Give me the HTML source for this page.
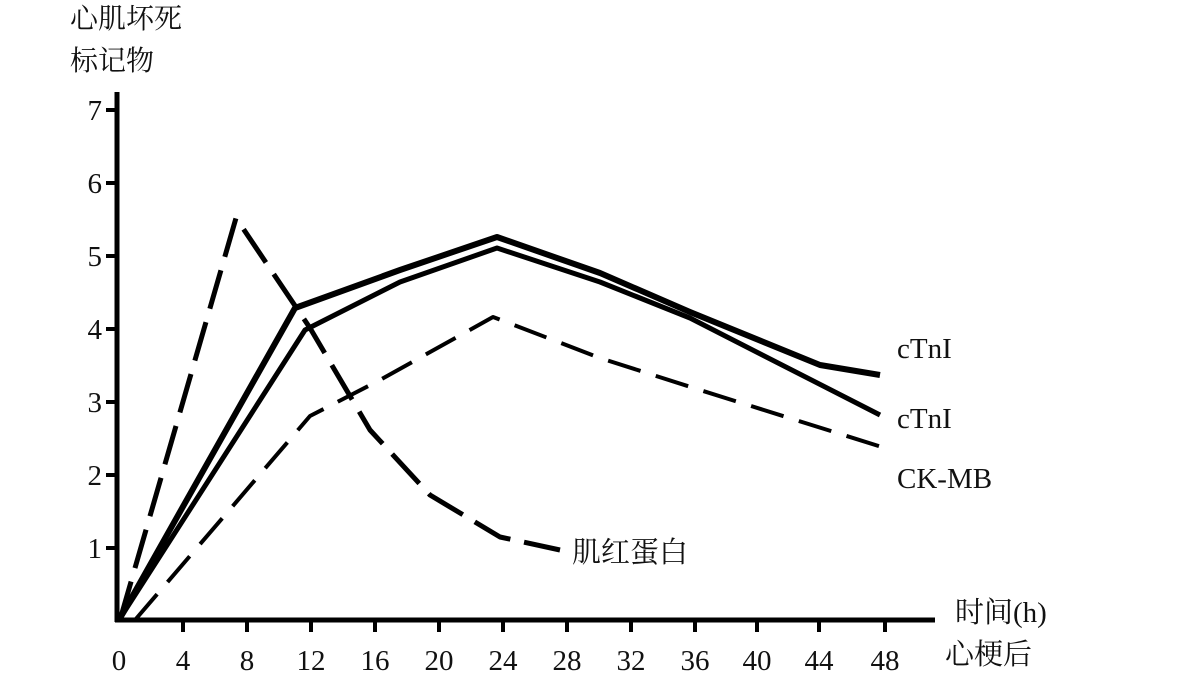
<!DOCTYPE html>
<html><head><meta charset="utf-8"><style>
html,body{margin:0;padding:0;background:#fff;}
svg{display:block;}
text{font-family:"Liberation Serif","Noto Serif CJK SC",serif;fill:#111;}
</style></head><body>
<svg width="1181" height="694" viewBox="0 0 1181 694">
<g font-size="28">
<text x="70" y="28">心肌坏死</text>
<text x="70" y="70">标记物</text>
</g>
<g stroke="#000" stroke-width="5" fill="none">
<line x1="117" y1="92" x2="117" y2="622"/>
<line x1="115" y1="620" x2="935" y2="620"/>
</g>
<g stroke="#000" stroke-width="4">
<line x1="106" y1="110" x2="117" y2="110"/>
<line x1="106" y1="183" x2="117" y2="183"/>
<line x1="106" y1="256" x2="117" y2="256"/>
<line x1="106" y1="329" x2="117" y2="329"/>
<line x1="106" y1="402" x2="117" y2="402"/>
<line x1="106" y1="475" x2="117" y2="475"/>
<line x1="106" y1="548" x2="117" y2="548"/>
<line x1="183" y1="620" x2="183" y2="632"/>
<line x1="247" y1="620" x2="247" y2="632"/>
<line x1="311" y1="620" x2="311" y2="632"/>
<line x1="375" y1="620" x2="375" y2="632"/>
<line x1="439" y1="620" x2="439" y2="632"/>
<line x1="503" y1="620" x2="503" y2="632"/>
<line x1="567" y1="620" x2="567" y2="632"/>
<line x1="631" y1="620" x2="631" y2="632"/>
<line x1="695" y1="620" x2="695" y2="632"/>
<line x1="757" y1="620" x2="757" y2="632"/>
<line x1="819" y1="620" x2="819" y2="632"/>
<line x1="885" y1="620" x2="885" y2="632"/>
</g>
<g font-size="29" text-anchor="end">
<text x="102" y="120">7</text><text x="102" y="193">6</text><text x="102" y="266">5</text>
<text x="102" y="339">4</text><text x="102" y="412">3</text><text x="102" y="485">2</text>
<text x="102" y="558">1</text>
</g>
<g font-size="29" text-anchor="middle">
<text x="119" y="670">0</text><text x="183" y="670">4</text><text x="247" y="670">8</text>
<text x="311" y="670">12</text><text x="375" y="670">16</text><text x="439" y="670">20</text>
<text x="503" y="670">24</text><text x="567" y="670">28</text><text x="631" y="670">32</text>
<text x="695" y="670">36</text><text x="757" y="670">40</text><text x="819" y="670">44</text>
<text x="885" y="670">48</text>
</g>
<g font-size="29">
<text x="955" y="622">时间(h)</text>
<text x="945" y="664">心梗后</text>
<text x="897" y="358">cTnI</text>
<text x="897" y="428">cTnI</text>
<text x="897" y="488">CK-MB</text>
<text x="572" y="562">肌红蛋白</text>
</g>
<g fill="none" stroke="#000" stroke-linejoin="round">
<polyline stroke-width="6" points="119,620 295,308 400,270 497,237 600,273 690,312 820,365 880,375"/>
<polyline stroke-width="5" points="119,620 305,330 400,282 497,248 600,282 690,318 880,415"/>
<polyline stroke-width="5" stroke-dasharray="40,14" points="120,620 236,218 310,328 370,430 430,495 500,537 560,550"/>
<polyline stroke-width="4" stroke-dasharray="34,16" points="135,620 310,416 380,380 493,317 600,358 700,390 885,448"/>
</g>
</svg>
</body></html>
